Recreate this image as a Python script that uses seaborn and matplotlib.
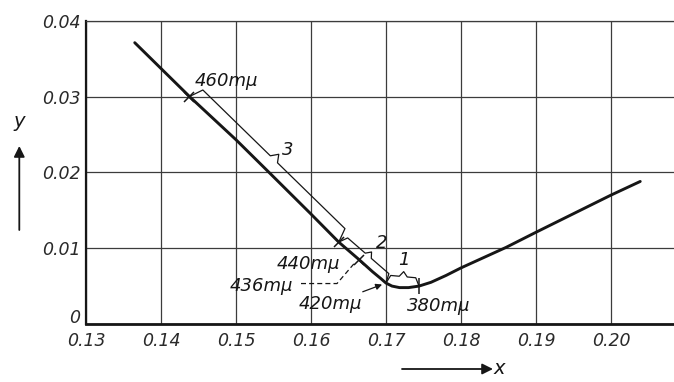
import numpy as np
import pandas as pd
import matplotlib
matplotlib.use("Agg")
import matplotlib.pyplot as plt
import matplotlib.transforms as mtransforms
import seaborn as sns

# Spectrum locus near the violet end, running into the purple line
locus_x = [0.1365, 0.1438, 0.1500, 0.1544, 0.1600, 0.1637, 0.1664, 0.1682,
           0.1693, 0.1700, 0.1708, 0.1718, 0.1730, 0.1744, 0.1760, 0.1780,
           0.1800, 0.1860, 0.1900, 0.2000, 0.2039]
locus_y = [0.0371, 0.0300, 0.0243, 0.0200, 0.0145, 0.0108, 0.0085, 0.0069,
           0.0060, 0.0054, 0.0050, 0.0048, 0.0048, 0.0050, 0.0055, 0.0064,
           0.0074, 0.0101, 0.0121, 0.0170, 0.0188]

# Wavelength marks on the locus
mark_labels = ["460mμ", "440mμ", "436mμ", "420mμ", "380mμ"]
mark_x = [0.1438, 0.1637, 0.1664, 0.1700, 0.1744]
mark_y = [0.0300, 0.0108, 0.0085, 0.0054, 0.0050]

# Ranges bracketed along the locus: (label, first mark, last mark)
range_labels = ["3", "2", "1"]
range_start = [0, 1, 3]
range_end = [1, 3, 4]

x_ticks = [0.13, 0.14, 0.15, 0.16, 0.17, 0.18, 0.19, 0.20]
x_tick_labels = ["0.13", "0.14", "0.15", "0.16", "0.17", "0.18", "0.19", "0.20"]
y_ticks = [0.0, 0.01, 0.02, 0.03, 0.04]
y_tick_labels = ["0", "0.01", "0.02", "0.03", "0.04"]

sns.set_theme(style="white")
plt.rcParams["font.family"] = ["DejaVu Sans"]
plt.rcParams["font.style"] = "italic"

INK = "#161616"
GRID = "#3c3c3c"

W, H = 674, 382
fig = plt.figure(figsize=(W / 100, H / 100), dpi=100)
fig.patch.set_facecolor("white")
ax = fig.add_axes([86 / W, 58 / H, 588 / W, 303.3 / H])
ax.set_facecolor("white")

locus = pd.DataFrame({"x": locus_x, "y": locus_y})
sns.lineplot(data=locus, x="x", y="y", sort=False, estimator=None,
             color=INK, lw=2.1, ax=ax, zorder=4)

ax.set_xlim(0.13, 0.2084)
ax.set_ylim(0.0, 0.04)
ax.set_xlabel("")
ax.set_ylabel("")

ax.set_xticks(x_ticks)
ax.set_xticklabels(x_tick_labels, fontsize=12.5, color="#2a2a2a")
ax.set_yticks(y_ticks)
ax.set_yticklabels(y_tick_labels, fontsize=12.5, color="#2a2a2a")
ax.tick_params(axis="both", length=0)
ax.tick_params(axis="x", pad=6)
ax.tick_params(axis="y", pad=4)
# the zero on the y axis sits a little above the x axis line
zero_lab = ax.get_yticklabels()[0]
zero_lab.set_transform(zero_lab.get_transform() +
                       mtransforms.ScaledTranslation(0, 6 / 72, fig.dpi_scale_trans))
ax.grid(True, color=GRID, lw=0.9)
ax.set_axisbelow(True)

ax.spines["right"].set_visible(False)
ax.spines["top"].set_color(GRID)
ax.spines["top"].set_linewidth(0.9)
ax.spines["left"].set_color(INK)
ax.spines["left"].set_linewidth(1.6)
ax.spines["bottom"].set_color(INK)
ax.spines["bottom"].set_linewidth(2.0)

# cross marks for 460, 440 and 436, a short stroke for 380
ax.plot(mark_x[:3], mark_y[:3], ls="none", marker="x", ms=7, mew=1.1,
        color=INK, zorder=5)
ax.plot(mark_x[4], mark_y[4], ls="none", marker="|", ms=11, mew=1.1,
        color=INK, zorder=5)

to_disp = ax.transData.transform
to_data = ax.transData.inverted().transform


def brace(p0, p1, d, t, c, label, lab_shift):
    a = to_disp(p0)
    b = to_disp(p1)
    u = (b - a) / np.hypot(*(b - a))
    n = np.array([-u[1], u[0]])
    m = (a + b) / 2
    pts = np.array([
        a,
        a + n * d + u * c,
        m - u * c + n * d,
        m + n * (d + t),
        m + u * c + n * d,
        b + n * d - u * c,
        b,
    ])
    dp = to_data(pts)
    ax.plot(dp[:, 0], dp[:, 1], color=INK, lw=0.9, zorder=3)
    lp = to_data(m + n * (d + t) + np.array(lab_shift))
    ax.text(lp[0], lp[1], label, fontsize=13, color=INK,
            ha="center", va="center", zorder=6)


pts = list(zip(mark_x, mark_y))
brace(pts[range_start[0]], pts[range_end[0]], 14, 7, 5, range_labels[0], (9, 4))
brace(pts[range_start[1]], pts[range_end[1]], 9, 5, 4, range_labels[1], (10, 9))
brace(pts[range_start[2]], pts[range_end[2]], 8, 5, 4, range_labels[2], (0, 12))

# wavelength labels
lab_kw = dict(textcoords="offset pixels", fontsize=13, color=INK,
              ha="center", va="center", zorder=6)
ax.annotate(mark_labels[0], xy=pts[0], xytext=(37, 16), **lab_kw)
ax.annotate(mark_labels[1], xy=pts[1], xytext=(-30, -22), **lab_kw)
ax.annotate(mark_labels[2], xy=pts[2], xytext=(-98, -26), **lab_kw)
ax.annotate(mark_labels[3], xy=pts[3], xytext=(-56, -21),
            arrowprops=dict(arrowstyle="-|>", lw=0.9, color=INK,
                            mutation_scale=9, shrinkA=37, shrinkB=3),
            **lab_kw)
ax.annotate(mark_labels[4], xy=pts[4], xytext=(20, -20), **lab_kw)

# dashed leader from the 436 label to its cross
m436 = to_disp(pts[2])
leader = to_data(np.array([m436 + (-58, -24), m436 + (-22, -24), m436 + (-4, -3)]))
ax.plot(leader[:, 0], leader[:, 1], color=INK, lw=0.9, ls=(0, (4, 2.5)), zorder=3)

# axis names with their arrows
fig.text(19.3 / W, 1 - 121.7 / H, "y", fontsize=14, color=INK,
         ha="center", va="center")
ax.annotate("", xy=(19.3, H - 146), xytext=(19.3, H - 230),
            xycoords="figure pixels", textcoords="figure pixels",
            arrowprops=dict(arrowstyle="-|>", lw=1.3, color=INK,
                            mutation_scale=16, shrinkA=0, shrinkB=0))
fig.text(499 / W, 1 - 369 / H, "x", fontsize=14, color=INK,
         ha="center", va="center")
ax.annotate("", xy=(493, H - 369), xytext=(402, H - 369),
            xycoords="figure pixels", textcoords="figure pixels",
            arrowprops=dict(arrowstyle="-|>", lw=1.3, color=INK,
                            mutation_scale=16, shrinkA=0, shrinkB=0))

fig.savefig("out.png", dpi=100, facecolor="white")
